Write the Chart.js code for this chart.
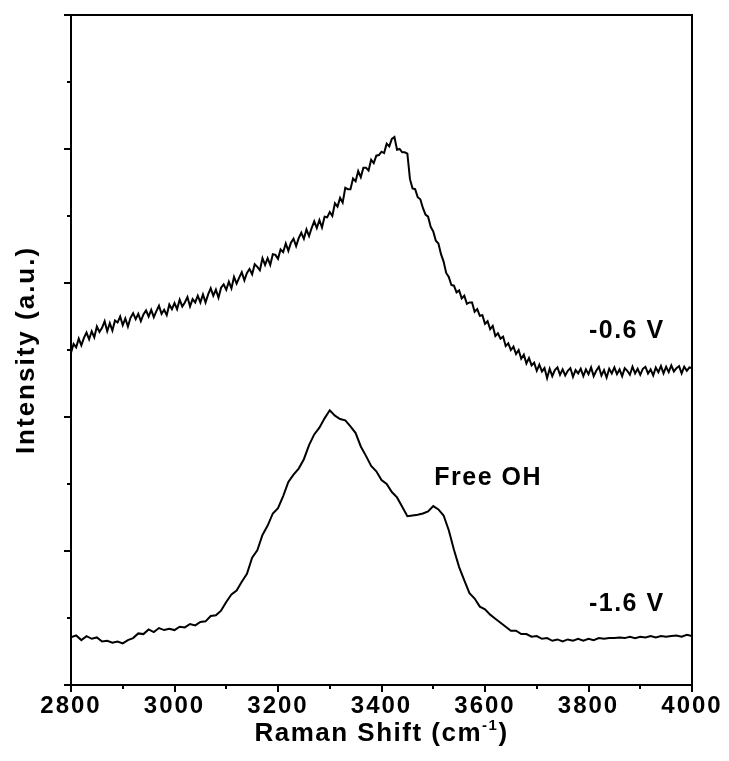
<!DOCTYPE html>
<html>
<head>
<meta charset="utf-8">
<script src="https://cdn.jsdelivr.net/npm/chart.js@4.4.1/dist/chart.umd.min.js"></script>
<style>
  body { margin: 0; background: #fff; }
  #wrap { width: 729px; height: 761px; }
</style>
</head>
<body>
<div id="wrap"><canvas id="chart"></canvas></div>
<script>
// Raman shift grids, cm-1
const wavenumbersFine = Array.from({ length: 241 }, (_, i) => 2800 + i * 5);   // -0.6 V trace
const wavenumbers = Array.from({ length: 121 }, (_, i) => 2800 + i * 10);      // -1.6 V trace

// spectrum at -0.6 V (offset upwards), every 5 cm-1
const spectrumMinus06 = [
  4.96, 5.09, 5.04, 5.17, 5.07, 5.18, 5.26, 5.16, 5.28, 5.19,
  5.35, 5.27, 5.33, 5.43, 5.28, 5.40, 5.29, 5.44, 5.41, 5.50,
  5.37, 5.47, 5.35, 5.48, 5.55, 5.46, 5.54, 5.43, 5.53, 5.59,
  5.50, 5.60, 5.49, 5.58, 5.66, 5.54, 5.60, 5.52, 5.68, 5.61,
  5.70, 5.61, 5.75, 5.65, 5.71, 5.79, 5.65, 5.76, 5.71, 5.81,
  5.71, 5.83, 5.71, 5.83, 5.92, 5.81, 5.90, 5.78, 5.93, 5.98,
  5.90, 6.02, 5.92, 6.09, 5.99, 6.08, 6.16, 6.04, 6.15, 6.21,
  6.13, 6.28, 6.24, 6.19, 6.37, 6.27, 6.37, 6.27, 6.43, 6.42,
  6.36, 6.50, 6.46, 6.59, 6.48, 6.60, 6.66, 6.55, 6.67, 6.75,
  6.66, 6.80, 6.70, 6.82, 6.92, 6.82, 6.94, 6.83, 6.99, 6.98,
  7.06, 7.00, 7.19, 7.14, 7.27, 7.20, 7.42, 7.40, 7.40, 7.56,
  7.52, 7.67, 7.58, 7.72, 7.72, 7.68, 7.84, 7.79, 7.90, 7.91,
  7.96, 7.94, 8.08, 8.04, 8.15, 8.18, 7.99, 8.00, 7.95, 7.95,
  7.93, 7.55, 7.41, 7.40, 7.28, 7.25, 7.12, 7.02, 6.99, 6.84,
  6.77, 6.63, 6.59, 6.43, 6.32, 6.15, 6.09, 5.97, 5.96, 5.86,
  5.89, 5.77, 5.81, 5.69, 5.71, 5.71, 5.57, 5.61, 5.51, 5.52,
  5.39, 5.43, 5.31, 5.36, 5.21, 5.25, 5.17, 5.20, 5.06, 5.10,
  5.00, 5.05, 4.94, 5.00, 4.87, 4.93, 4.80, 4.88, 4.77, 4.81,
  4.69, 4.78, 4.68, 4.73, 4.58, 4.72, 4.61, 4.70, 4.74, 4.63,
  4.71, 4.62, 4.69, 4.73, 4.60, 4.70, 4.65, 4.72, 4.61, 4.71,
  4.64, 4.74, 4.61, 4.69, 4.75, 4.62, 4.70, 4.59, 4.72, 4.65,
  4.74, 4.64, 4.71, 4.61, 4.73, 4.69, 4.63, 4.75, 4.65, 4.72,
  4.63, 4.72, 4.75, 4.65, 4.71, 4.62, 4.74, 4.67, 4.76, 4.65,
  4.75, 4.67, 4.77, 4.68, 4.73, 4.76, 4.65, 4.75, 4.69, 4.74,
  4.73
];

// spectrum at -1.6 V, every 10 cm-1
const spectrumMinus16 = [
  0.71, 0.74, 0.67, 0.73, 0.69, 0.71, 0.65, 0.66, 0.63, 0.65,
  0.62, 0.67, 0.70, 0.77, 0.76, 0.83, 0.79, 0.85, 0.82, 0.84,
  0.82, 0.87, 0.86, 0.91, 0.89, 0.94, 0.95, 1.03, 1.04, 1.11,
  1.24, 1.35, 1.41, 1.54, 1.66, 1.90, 2.01, 2.24, 2.38, 2.56,
  2.64, 2.82, 3.03, 3.14, 3.23, 3.37, 3.58, 3.74, 3.84, 3.98,
  4.10, 4.02, 3.97, 3.95, 3.86, 3.76, 3.56, 3.42, 3.27, 3.19,
  3.06, 3.00, 2.88, 2.80, 2.66, 2.52, 2.53, 2.54, 2.56, 2.59,
  2.67, 2.62, 2.53, 2.31, 2.02, 1.76, 1.56, 1.37, 1.29, 1.17,
  1.13, 1.05, 0.99, 0.93, 0.87, 0.81, 0.81, 0.76, 0.76, 0.72,
  0.73, 0.69, 0.70, 0.66, 0.68, 0.65, 0.68, 0.66, 0.69, 0.66,
  0.69, 0.67, 0.70, 0.69, 0.70, 0.70, 0.71, 0.70, 0.72, 0.70,
  0.72, 0.71, 0.73, 0.71, 0.73, 0.72, 0.73, 0.74, 0.72, 0.75,
  0.73
];

const seriesNames = ["-0.6 V", "-1.6 V"];
const noteText = "Free OH";

const FONT = '"Liberation Sans", Arial, sans-serif';

const toPoints = (xs, ys) => xs.map((x, i) => ({ x: x, y: ys[i] }));

// box, tick marks, labels and axis title
const framePlugin = {
  id: "frame",
  beforeDraw(chart) {
    chart.ctx.letterSpacing = "2px";
  },
  afterDraw(chart) {
    const { ctx, chartArea: a, scales } = chart;
    const x = scales.x, y = scales.y;
    ctx.save();
    ctx.strokeStyle = "#000";
    ctx.lineWidth = 2;
    ctx.strokeRect(a.left, a.top, a.right - a.left, a.bottom - a.top);

    ctx.beginPath();
    y.ticks.forEach((t) => {
      const py = Math.round(y.getPixelForValue(t.value));
      const len = t.value % 2 === 0 ? 7 : 4;
      ctx.moveTo(a.left - len, py);
      ctx.lineTo(a.left, py);
    });
    x.ticks.forEach((t) => {
      const px = Math.round(x.getPixelForValue(t.value));
      const len = t.value % 200 === 0 ? 7 : 4;
      ctx.moveTo(px, a.bottom);
      ctx.lineTo(px, a.bottom + len);
    });
    ctx.stroke();

    ctx.fillStyle = "#000";
    ctx.textAlign = "center";
    ctx.textBaseline = "middle";
    ctx.letterSpacing = "1.5px";
    ctx.font = "bold 25px " + FONT;
    const notes = [
      [seriesNames[0], 3874, 5.28],
      [noteText, 3606, 3.09],
      [seriesNames[1], 3874, 1.21],
    ];
    notes.forEach(([txt, vx, vy]) => {
      ctx.fillText(txt, x.getPixelForValue(vx), y.getPixelForValue(vy));
    });

    // x axis title with superscript
    ctx.letterSpacing = "1.5px";
    ctx.textAlign = "left";
    ctx.textBaseline = "alphabetic";
    const main = "Raman Shift (cm";
    const sup = "-1";
    const close = ")";
    ctx.font = "bold 26px " + FONT;
    const w1 = ctx.measureText(main).width;
    const w3 = ctx.measureText(close).width;
    ctx.font = "bold 15px " + FONT;
    const w2 = ctx.measureText(sup).width;
    const cx = (a.left + a.right) / 2;
    const sx = cx - (w1 + w2 + w3) / 2;
    const base = 741;
    ctx.font = "bold 26px " + FONT;
    ctx.fillText(main, sx, base);
    ctx.font = "bold 15px " + FONT;
    ctx.fillText(sup, sx + w1, base - 11);
    ctx.font = "bold 26px " + FONT;
    ctx.fillText(close, sx + w1 + w2, base);
    ctx.restore();
  },
};

new Chart(document.getElementById("chart"), {
  type: "line",
  data: {
    datasets: [
      { label: seriesNames[0], data: toPoints(wavenumbersFine, spectrumMinus06) },
      { label: seriesNames[1], data: toPoints(wavenumbers, spectrumMinus16) },
    ],
  },
  options: {
    responsive: true,
    maintainAspectRatio: false,
    animation: false,
    layout: { padding: { top: 15, right: 37, left: 0, bottom: 0 } },
    elements: {
      line: { borderColor: "#000", borderWidth: 2, tension: 0, fill: false },
      point: { radius: 0 },
    },
    plugins: {
      legend: { display: false },
      tooltip: { enabled: false },
    },
    scales: {
      x: {
        type: "linear",
        min: 2800,
        max: 4000,
        afterFit: (s) => { s.height = 76; },
        grid: { display: true, drawOnChartArea: false, drawTicks: false },
        border: { display: false },
        ticks: {
          stepSize: 100,
          autoSkip: false,
          maxRotation: 0,
          padding: 7,
          color: "#000",
          font: { family: FONT, size: 24, weight: "bold" },
          callback: (v) => (v % 200 === 0 ? String(v) : ""),
        },
      },
      y: {
        min: 0,
        max: 10,
        afterFit: (s) => { s.width = 71; },
        grid: { display: true, drawOnChartArea: false, drawTicks: false },
        border: { display: false },
        ticks: { stepSize: 1, display: false },
        title: {
          display: true,
          text: "Intensity (a.u.)",
          color: "#000",
          font: { family: FONT, size: 26, weight: "bold" },
          padding: { top: 11, bottom: 0 },
        },
      },
    },
  },
  plugins: [framePlugin],
});
</script>
</body>
</html>
